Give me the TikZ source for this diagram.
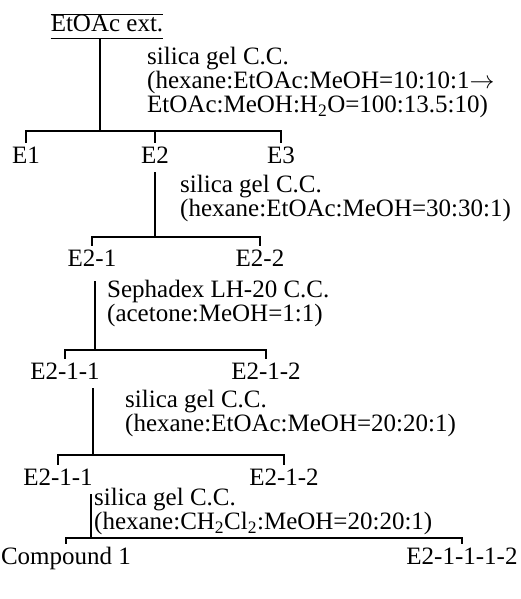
\documentclass[tikz,border=0pt]{standalone}
\usepackage{fontspec}
\setmainfont{Liberation Serif}
\usetikzlibrary{positioning}
\tikzset{
  frac/.style = {font=\fontsize{25}{24}\selectfont, inner xsep=0pt, inner ysep=4pt, text height=16pt, text depth=5pt, anchor=base},
  cond/.style = {font=\fontsize{25}{24}\selectfont, align=left, inner sep=0pt, anchor=north west},
  ln/.style = {line width=1.1pt}
}

\begin{document}
\begin{tikzpicture}[x=1pt, y=-1pt]
\useasboundingbox (0,0) rectangle (521,599);

% Step 1: extract
\node[frac, inner ysep=1.5pt] (ext) at (107,32) {EtOAc ext.};
\draw[ln] (ext.north west) -- (ext.north east);
\draw[ln] (ext.south west) -- (ext.south east);
\node[cond] (c1) at (147,47) {silica gel C.C.\\(hexane:EtOAc:MeOH=10:10:1$\rightarrow$\\EtOAc:MeOH:H\textsubscript{2}O=100:13.5:10)};
\coordinate (b1) at (100,131);

\node[frac] (e1) at (26,163) {E1};
\node[frac] (e2) at (155,163) {E2};
\node[frac] (e3) at (281,163) {E3};

\draw[ln] (ext.south -| b1) -- (b1);
\draw[ln] (e1.north) |- (b1) -| (e3.north);
\draw[ln] (e2.north) -- (e2.north |- b1);

% Step 2: E2
\node[cond] (c2) at (180,175) {silica gel C.C.\\(hexane:EtOAc:MeOH=30:30:1)};
\coordinate (b2) at (155,237);

\node[frac] (e21) at (92,266) {E2-1};
\node[frac] (e22) at (260,266) {E2-2};

\draw[ln] (e2.south -| b2) -- (b2);
\draw[ln] (e21.north) |- (b2) -| (e22.north);

% Step 3: E2-1
\node[cond] (c3) at (107,280) {Sephadex LH-20 C.C.\\(acetone:MeOH=1:1)};
\coordinate (b3) at (95,350);

\node[frac] (e211) at (65,379) {E2-1-1};
\node[frac] (e212) at (266,379) {E2-1-2};

\draw[ln] ([yshift=-6pt]e21.south -| b3) -- (b3);
\draw[ln] (e211.north) |- (b3) -| (e212.north);

% Step 4: E2-1-1
\node[cond] (c4) at (125,390) {silica gel C.C.\\(hexane:EtOAc:MeOH=20:20:1)};
\coordinate (b4) at (93,455);

\node[frac] (f211) at (58,485) {E2-1-1};
\node[frac] (f212) at (284,485) {E2-1-2};

\draw[ln] (e211.south -| b4) -- (b4);
\draw[ln] (f211.north) |- (b4) -| (f212.north);

% Step 5: E2-1-1 again
\node[cond] (c5) at (94,488) {silica gel C.C.\\(hexane:CH\textsubscript{2}Cl\textsubscript{2}:MeOH=20:20:1)};
\coordinate (b5) at (91,538);

\node[frac] (cpd) at (66,564) {Compound 1};
\node[frac] (f21112) at (462,564) {E2-1-1-1-2};

\draw[ln] (f211.south -| b5) -- (b5);
\draw[ln] (cpd.north) |- (b5) -| (f21112.north);

\end{tikzpicture}
\end{document}
